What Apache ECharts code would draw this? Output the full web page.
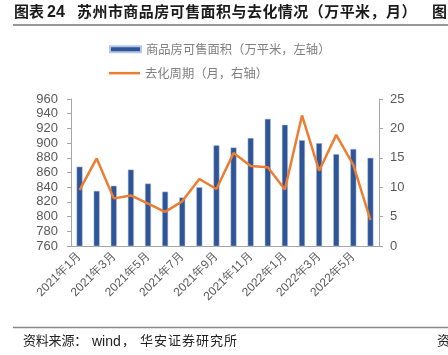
<!DOCTYPE html>
<html><head><meta charset="utf-8">
<script src="https://cdn.jsdelivr.net/npm/echarts@6/dist/echarts.min.js"></script>
<style>html,body{margin:0;padding:0;background:#fff}#c{width:448px;height:355px}</style>
</head><body><div id="c"></div>
<script>
const categories = ['2021年1月','2021年2月','2021年3月','2021年4月','2021年5月','2021年6月','2021年7月','2021年8月','2021年9月','2021年10月','2021年11月','2021年12月','2022年1月','2022年2月','2022年3月','2022年4月','2022年5月','2022年6月'];
const saleableArea = [868,835,842,864,845,834,826,840,897,894,907,933,925,904,900,885,892,880];
const destockMonths = [9.5,14.9,8.1,8.6,7.2,5.8,7.6,11.4,9.7,15.8,13.6,13.4,9.6,22.2,12.8,18.9,13.8,4.4];
const leftTicks = {min:760,max:960,interval:20};
const rightTicks = {min:0,max:25,interval:5};
const titleText = '苏州市商品房可售面积与去化情况（万平米，月）';
const barName = '商品房可售面积（万平米，左轴）';
const lineName = '去化周期（月，右轴）';

const chart = echarts.init(document.getElementById('c'), null, {renderer:'canvas'});
const cjk = '"Noto Sans CJK SC", sans-serif';
const lat = '"Liberation Sans", Arial, sans-serif';

function spaced(text, x0, step, top, font, fill) {
  return Array.from(text).map((ch, i) => ({type:'text', left:x0 + i*step, top:top, style:{text:ch, font:font, fill:fill}}));
}
const graphics = [
  {type:'text', left:14, top:4, style:{text:'图表', font:'bold 15px '+cjk, fill:'#1a1a1a'}},
  {type:'text', left:47, top:5, style:{text:'24', font:'bold 16px '+lat, fill:'#1a1a1a'}},
  ...spaced(titleText, 77, 15.45, 4, 'bold 15px '+cjk, '#1a1a1a'),
  {type:'text', left:432, top:4, style:{text:'图', font:'bold 15px '+cjk, fill:'#1a1a1a'}},
  {type:'line', shape:{x1:13,y1:25,x2:448,y2:25}, style:{stroke:'#333',lineWidth:1}},
  {type:'line', shape:{x1:13,y1:327.5,x2:448,y2:327.5}, style:{stroke:'#888',lineWidth:1.5}},
  ...spaced('资料来源：', 23, 12.8, 334, '13px '+cjk, '#222'),
  {type:'text', left:92, top:335, style:{text:'wind', font:'14px '+lat, fill:'#222'}},
  {type:'text', left:122, top:334, style:{text:'，', font:'13px '+cjk, fill:'#222'}},
  ...spaced('华安证券研究所', 140, 14, 334, '13px '+cjk, '#222'),
  {type:'text', left:437, top:334, style:{text:'资', font:'13px '+cjk, fill:'#222'}}
];

chart.setOption({
  animation:false,
  backgroundColor:'#fff',
  graphic:graphics,
  legend:[
    {orient:'vertical', left:104, top:38, itemWidth:31, itemHeight:6,
     textStyle:{color:'#7f7f7f', fontSize:12.3, fontFamily:cjk},
     data:[{name:barName, icon:'rect'}]},
    {orient:'vertical', left:104, top:62, itemWidth:31, itemHeight:2.5,
     textStyle:{color:'#7f7f7f', fontSize:12.3, fontFamily:cjk},
     data:[{name:lineName, icon:'rect', itemStyle:{color:'#ed7d31'}}]}
  ],
  grid:{left:71, right:69, top:99, bottom:109, containLabel:false},
  xAxis:{
    type:'category', data:categories, boundaryGap:true,
    axisLine:{lineStyle:{color:'#a6a6a6'}},
    axisTick:{interval:1, length:4, lineStyle:{color:'#a6a6a6'}},
    axisLabel:{interval:1, rotate:45, color:'#595959', fontSize:12, fontFamily:lat, margin:8}
  },
  yAxis:[
    {type:'value', min:leftTicks.min, max:leftTicks.max, interval:leftTicks.interval,
     axisLine:{show:true, lineStyle:{color:'#a6a6a6'}}, axisTick:{show:true, length:4, lineStyle:{color:'#a6a6a6'}},
     splitLine:{show:false}, axisLabel:{color:'#595959', fontSize:13, fontFamily:lat, margin:13}},
    {type:'value', min:rightTicks.min, max:rightTicks.max, interval:rightTicks.interval,
     axisLine:{show:true, lineStyle:{color:'#a6a6a6'}}, axisTick:{show:true, length:4, lineStyle:{color:'#a6a6a6'}},
     splitLine:{show:false}, axisLabel:{color:'#595959', fontSize:13, fontFamily:lat, margin:11}}
  ],
  series:[
    {name:barName, type:'bar', yAxisIndex:0, data:saleableArea, barWidth:6,
     itemStyle:{color:'#2f5597', borderColor:'#b4c7e7', borderWidth:0.5}},
    {name:lineName, type:'line', yAxisIndex:1, data:destockMonths, symbol:'none',
     lineStyle:{color:'#ed7d31', width:2.5}, itemStyle:{color:'#ed7d31'}}
  ]
});
</script></body></html>
